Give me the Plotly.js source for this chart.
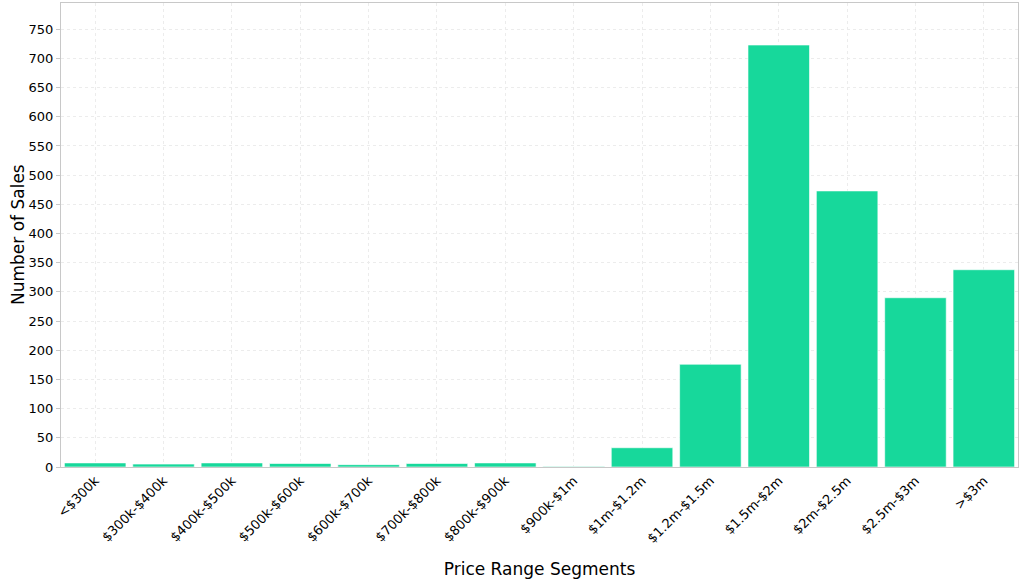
<!DOCTYPE html>
<html><head><meta charset="utf-8">
<script src="https://cdn.plot.ly/plotly-3.0.1.min.js"></script>
<style>body{margin:0;background:#fff}#chart{width:1024px;height:585px}</style>
</head><body><div id="chart"></div>
<script>
const categories = ["<$300k","$300k-$400k","$400k-$500k","$500k-$600k","$600k-$700k","$700k-$800k","$800k-$900k","$900k-$1m","$1m-$1.2m","$1.2m-$1.5m","$1.5m-$2m","$2m-$2.5m","$2.5m-$3m",">$3m"];
const sales = [7,5,7,6,4,6,7,1,33,176,723,473,290,338];
const yTitle = 'Number of Sales';

const trace = {
  type: 'bar', x: categories, y: sales,
  marker: {color: '#17d89b', line: {color: 'rgba(255,255,255,0.6)', width: 1}},
  hoverinfo: 'x+y'
};
const layout = {
  width: 1024, height: 585,
  margin: {l: 61, r: 6, t: 3, b: 118},
  paper_bgcolor: '#fff', plot_bgcolor: '#fff',
  font: {family: 'DejaVu Sans', size: 13, color: '#000'},
  bargap: 0.1,
  showlegend: false,
  xaxis: {
    title: {text: 'Price Range Segments', font: {size: 17}, standoff: 18},
    tickangle: -45, showgrid: true, gridcolor: '#ececec', griddash: 'dot',
    showline: true, linecolor: '#c8c8c8', mirror: true, ticks: '', automargin: false
  },
  yaxis: {
    range: [0, 795], dtick: 50, showgrid: true, gridcolor: '#ececec', griddash: 'dot',
    showline: true, linecolor: '#c8c8c8', mirror: true, ticks: 'outside', ticklen: 4, tickcolor: '#c8c8c8',
    zeroline: false, automargin: false
  },
  annotations: [{
    text: yTitle, xref: 'paper', yref: 'paper', x: 0, y: 0.5, xshift: -43,
    xanchor: 'center', yanchor: 'middle', textangle: -90, showarrow: false,
    font: {size: 17}
  }]
};
Plotly.newPlot('chart', [trace], layout, {displayModeBar: false});
</script></body></html>
